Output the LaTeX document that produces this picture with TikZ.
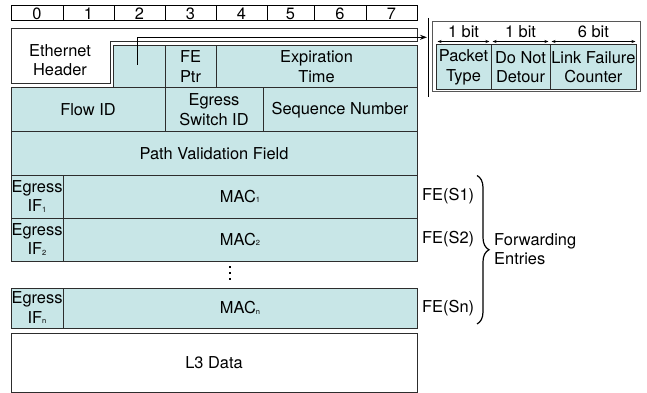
\documentclass[tikz,border=0pt]{standalone}
\usepackage{fontspec}
\setmainfont{TeX Gyre Heros}
\usetikzlibrary{arrows.meta,decorations.pathreplacing}
\definecolor{fieldfill}{RGB}{200,230,231}
\definecolor{edgecol}{RGB}{45,45,45}
\newcommand{\tsub}[1]{\raisebox{-0.5pt}{\fontsize{7.5}{8}\selectfont #1}}
\begin{document}
\begin{tikzpicture}[x=1pt,y=-1pt,
  txt/.style={font=\fontsize{16.4}{19.5}\selectfont, align=center, inner sep=0pt},
  cell/.style={draw=edgecol, line width=1pt, minimum width=#1, inner sep=0pt, txt},
  field/.style={cell=#1, fill=fieldfill},
  plain/.style={cell=#1, fill=white},
  conn/.style={line width=1.2pt, draw=black},
]
\useasboundingbox (0,0) rectangle (647,393);
% ruler
\foreach \a/\b/\t [count=\i] in {11/63/0,63/114/1,114/165/2,165/216/3,216/267/4,267/314/5,314/366/6,366/417/7}{
  \node[plain=\b-\a, minimum height=15, draw=black] (r\i) at ({(\a+\b)/2},13.5) {\t};
}
% ethernet header shape
\draw[draw=edgecol, line width=1pt, fill=white] (11,29) -- (417,29) -- (417,41.7) -- (110,41.7) -- (110,84) -- (11,84) -- cycle;
\node[txt] (eth) at (60,60) {Ethernet\\Header};
% header fields
\node[field=52, minimum height=42.5] (hblank) at (139,66.75) {};
\node[field=51, minimum height=42.5] (feptr) at (190.5,66.75) {FE\\Ptr};
\node[field=201, minimum height=42.5] (exp) at (316.5,66.75) {Expiration\\Time};
% row 2
\node[field=154, minimum height=43.5] (flow) at (88,109.75) {Flow ID};
\node[field=98, minimum height=43.5] (esw) at (214,109.75) {Egress\\Switch ID};
\node[field=154, minimum height=43.5] (seq) at (340,109.75) {Sequence Number};
% row 3
\node[field=406, minimum height=43.5] (pvf) at (214,153.25) {Path Validation Field};
% forwarding entries
\node[field=52, minimum height=43] (if1) at (37,196.5) {Egress\\IF\tsub{1}};
\node[field=354, minimum height=43] (mac1) at (240,196.5) {MAC\tsub{1}};
\node[field=52, minimum height=43] (if2) at (37,239.5) {Egress\\IF\tsub{2}};
\node[field=354, minimum height=43] (mac2) at (240,239.5) {MAC\tsub{2}};
\node[field=52, minimum height=40] (ifn) at (37,308) {Egress\\IF\tsub{n}};
\node[field=354, minimum height=40] (macn) at (240,308) {MAC\tsub{n}};
% dots
\foreach \y [count=\i] in {267,273,279}{
  \node[fill=black, minimum size=2.6pt, inner sep=0pt] (dot\i) at (230,\y) {};
}
% L3 data
\node[plain=406, minimum height=59] (l3) at (214,362.5) {L3 Data};
% FE labels
\node[txt, anchor=west] (fe1) at (422,196.5) {FE(S1)};
\node[txt, anchor=west] (fe2) at (422,239.5) {FE(S2)};
\node[txt, anchor=west] (fen) at (422,308) {FE(Sn)};
\draw[decorate, decoration={brace, amplitude=12pt}, line width=1.2pt] (477,175.5) -- (477,324);
\node[txt, align=left, anchor=west] (fwd) at (494,249) {Forwarding\\Entries};
% separator
\draw[line width=1.2pt] (428.3,18) -- (428.3,97);
% right box
\node[draw=edgecol!80, line width=0.8pt, fill=white, minimum width=207.7, minimum height=70, inner sep=0pt] (rbox) at (536.15,56.7) {};
\node[field=55, minimum height=44.3] (ptype) at (463.5,67.15) {Packet\\Type};
\node[field=59, minimum height=44.3] (dnd) at (520.5,67.15) {Do Not\\Detour};
\node[field=86.7, minimum height=44.3] (lfc) at (593.35,67.15) {Link Failure\\Counter};
\node[txt] (b1) at (463.5,32) {1 bit};
\node[txt] (b2) at (520.5,32) {1 bit};
\node[txt] (b3) at (593.35,32) {6 bit};
\tikzset{dim/.style={line width=0.8pt, {Stealth[length=4pt,width=3pt]}-{Stealth[length=4pt,width=3pt]}}}
\draw[dim] (437.5,41.5) -- (489.5,41.5);
\draw[dim] (492.5,41.5) -- (548.5,41.5);
\draw[dim] (551.5,41.5) -- (635.5,41.5);
% connector from blank field to bit box
\coordinate (ptrsrc) at (137.5,65);
\coordinate (ptrdst) at (427,37.3);
\draw[conn, -{Stealth[length=7pt,width=5pt]}] (ptrsrc) |- (ptrdst);
\end{tikzpicture}
\end{document}
